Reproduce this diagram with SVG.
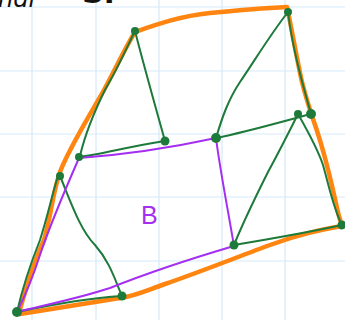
<svg xmlns="http://www.w3.org/2000/svg" width="345" height="320" viewBox="0 0 345 320">
<style>
.grid{stroke:#d4eaf9;stroke-width:1.2}
.o{fill:none;stroke:#ff8510;stroke-width:4.5;stroke-linecap:round;stroke-linejoin:round}
.g{fill:none;stroke:#1d7a3a;stroke-width:2;stroke-linecap:round;stroke-linejoin:round}
.p{fill:none;stroke:#a42ff0;stroke-width:2;stroke-linecap:round;stroke-linejoin:round}
.n{fill:#1d7a3a}
.hw{font-family:"DejaVu Sans",sans-serif;fill:#111}
</style>
<rect width="345" height="320" fill="#ffffff"/>
<g id="grid">
<line class="grid" x1="32" y1="0" x2="32" y2="320"/>
<line class="grid" x1="96" y1="0" x2="96" y2="320"/>
<line class="grid" x1="159" y1="0" x2="159" y2="320"/>
<line class="grid" x1="222" y1="0" x2="222" y2="320"/>
<line class="grid" x1="285" y1="0" x2="285" y2="320"/>
<line class="grid" x1="0" y1="7" x2="345" y2="7"/>
<line class="grid" x1="0" y1="71" x2="345" y2="71"/>
<line class="grid" x1="0" y1="134" x2="345" y2="134"/>
<line class="grid" x1="0" y1="197" x2="345" y2="197"/>
<line class="grid" x1="0" y1="261" x2="345" y2="261"/>
</g>
<text class="hw" x="-2" y="7" font-size="24" font-style="italic">ndl</text>
<text class="hw" x="82" y="3" font-size="30" font-weight="bold">S.</text>
<g id="outline">
<path class="o" d="M19,313 C24,295 34,262 44,240 C52,212 52,195 60,172 C68,150 88,118 104,90 C116,68 124,50 135,32 C155,25 180,16 210,13 C240,10 265,8 287,7 C292,30 297,60 302,82 C306,98 310,110 314,122 C324,150 332,185 337,208 C339,218 341,222 342,226 C320,230 300,234 270,245 C240,256 200,272 165,284 C145,291 135,296 120,298 C90,303 50,309 20,314 Z"/>
</g>
<g id="connectors">
<path class="g" d="M135,31 C128,45 118,68 106,88 C95,110 86,130 80,156"/>
<path class="g" d="M135,31 C145,70 155,105 165,141"/>
<path class="g" d="M79,157 C100,155 125,147 165,141"/>
<path class="g" d="M288,12 C270,35 255,60 240,82 C228,100 222,118 216,138"/>
<path class="g" d="M288,12 C292,45 300,75 311,114"/>
<path class="g" d="M216,138 C250,131 280,122 311,114"/>
<path class="g" d="M298,114 C290,130 280,150 268,172 C258,192 244,220 234,245"/>
<path class="g" d="M298,114 C310,135 318,150 323,165 C330,190 334,210 342,225"/>
<path class="g" d="M234,245 C270,239 305,233 342,225"/>
<path class="g" d="M60,176 C70,200 80,230 95,245 C110,262 115,280 122,296"/>
<path class="g" d="M17,312 C50,305 90,298 122,296"/>
<path class="g" d="M17,312 C22,290 30,265 40,240 C48,215 52,195 58,176"/>
<path class="p" d="M79,158 C120,155 170,148 216,138"/>
<path class="p" d="M216,138 C220,170 228,210 234,246"/>
<path class="p" d="M234,246 C200,256 150,272 110,288 C80,298 45,305 17,312"/>
<path class="p" d="M79,158 C65,190 50,225 40,255 C32,280 24,298 17,312"/>
</g>
<g id="nA"><circle class="n" cx="135" cy="31" r="4"/></g>
<g id="nB"><circle class="n" cx="288" cy="12" r="4"/></g>
<g id="nC"><circle class="n" cx="311" cy="114" r="5"/></g>
<g id="nD"><circle class="n" cx="298" cy="114" r="4"/></g>
<g id="nE"><circle class="n" cx="165" cy="141" r="4.5"/></g>
<g id="nF"><circle class="n" cx="216" cy="138" r="5"/></g>
<g id="nG"><circle class="n" cx="79" cy="157" r="4"/></g>
<g id="nH"><circle class="n" cx="60" cy="176" r="4"/></g>
<g id="nI"><circle class="n" cx="234" cy="245" r="4.5"/></g>
<g id="nJ"><circle class="n" cx="342" cy="225" r="4.5"/></g>
<g id="nK"><circle class="n" cx="122" cy="296" r="4.5"/></g>
<g id="nL"><circle class="n" cx="17" cy="312" r="5"/></g>
<g id="label-B"><text x="141" y="224" font-family="'Liberation Sans',sans-serif" font-size="25" fill="#a42ff0">B</text></g>
</svg>
